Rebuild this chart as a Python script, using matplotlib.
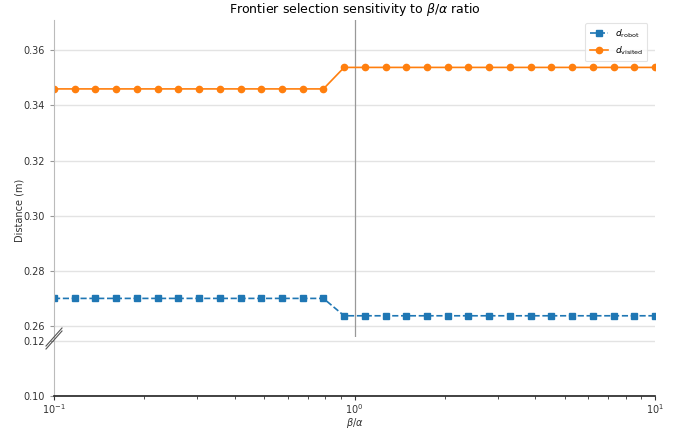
import matplotlib
matplotlib.use("Agg")
import matplotlib.pyplot as plt
from matplotlib.lines import Line2D

ratio = [0.1, 0.1172, 0.1374, 0.1610, 0.1887, 0.2212, 0.2593, 0.3039, 0.3562, 0.4175,
         0.4894, 0.5736, 0.6723, 0.7880, 0.9237, 1.0826, 1.2690, 1.4874, 1.7433, 2.0434,
         2.3950, 2.8072, 3.2903, 3.8566, 4.5204, 5.2983, 6.2102, 7.2790, 8.5317, 10.0]
d_robot = [0.270] * 14 + [0.2637] * 16
d_visited = [0.346] * 14 + [0.3538] * 16
top_yticks = [0.26, 0.28, 0.30, 0.32, 0.34, 0.36]
bottom_yticks = [0.10, 0.12]

W, H = 684, 428
fig = plt.figure(figsize=(W / 100, H / 100), dpi=100)

left = 54 / W
width = (655 - 54) / W
ax_top = fig.add_axes([left, (H - 337) / H, width, (337 - 20) / H])
ax_bot = fig.add_axes([left, (H - 396) / H, width, (396 - 337) / H], sharex=ax_top)

for ax in (ax_top, ax_bot):
    ax.plot(ratio, d_robot, color="#1f77b4", ls="--", marker="s", ms=4.5, lw=1.2,
            label=r"$d_{\mathrm{robot}}$")
    ax.plot(ratio, d_visited, color="#ff7f0e", ls="-", marker="o", ms=4.5, lw=1.2,
            label=r"$d_{\mathrm{visited}}$")
    ax.set_xscale("log")
    ax.set_xlim(0.1, 10)
    ax.grid(axis="y", color="#e3e3e3", lw=1)
    ax.set_axisbelow(True)
    for s in ("top", "right"):
        ax.spines[s].set_visible(False)
    ax.spines["left"].set_color("#bbbbbb")
    ax.tick_params(axis="y", labelsize=7, colors="#333333", length=3, color="#999999")

ax_top.set_ylim(0.256, 0.371)
ax_bot.set_ylim(0.10, 0.1215)
ax_top.set_yticks(top_yticks)
ax_top.set_yticklabels([f"{v:.2f}" for v in top_yticks])
ax_bot.set_yticks(bottom_yticks)
ax_bot.set_yticklabels([f"{v:.2f}" for v in bottom_yticks])

ax_top.axvline(1.0, color="#999999", lw=0.9, zorder=1)
ax_top.spines["bottom"].set_visible(False)
ax_top.tick_params(axis="x", which="both", bottom=False, labelbottom=False)
ax_bot.spines["bottom"].set_color("#222222")
ax_bot.spines["bottom"].set_linewidth(1.2)
ax_bot.tick_params(axis="x", which="both", labelsize=7, colors="#333333", length=3, pad=1.5)
ax_bot.tick_params(axis="x", which="minor", length=2)
fig.text((54 + 655) / 2 / W, 1 - 422.5 / H, r"$\beta/\alpha$", ha="center", va="center",
         fontsize=7, color="#333333")

ax_top.set_title(r"Frontier selection sensitivity to $\beta/\alpha$ ratio", fontsize=9, pad=5)
fig.text(20 / W, 1 - 210 / H, "Distance (m)", rotation=90, ha="center", va="center",
         fontsize=7, color="#333333")

leg = ax_top.legend(loc="upper right", fontsize=6.5, frameon=True, borderpad=0.5,
                    handlelength=2.0, bbox_to_anchor=(0.995, 1.005))
leg.get_frame().set_edgecolor("#dddddd")
leg.get_frame().set_linewidth(0.8)

# break marks
for dy in (0, 3):
    fig.add_artist(Line2D([46 / W, 62 / W], [1 - (349 - dy) / H, 1 - (331 - dy) / H],
                          transform=fig.transFigure, color="#555555", lw=0.8))

fig.savefig("out.png", dpi=100)
